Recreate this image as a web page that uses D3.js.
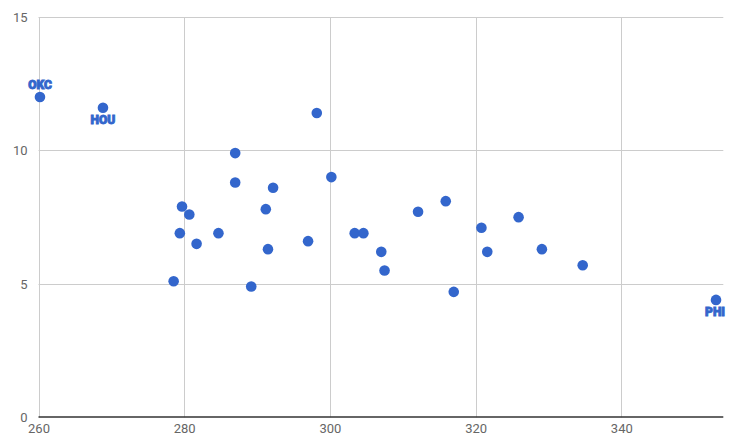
<!DOCTYPE html>
<html><head><meta charset="utf-8">
<script src="https://cdn.jsdelivr.net/npm/d3@7"></script>
<style>body{margin:0;background:#fff}svg{display:block}</style>
</head><body>
<svg id="c" width="742" height="448"></svg>
<script>
const teams = ["OKC","HOU","A1","A2","A3","A4","A5","A6","A7","A8","A9","A10","A11","A12","A13","A14","A15","A16","A17","B1","B2","B3","B4","B5","B6","B7","B8","B9","B10","PHI"];
const xVals = [260.2,268.85,298.2,287.0,287.0,292.2,300.2,279.7,280.7,291.2,279.4,284.7,281.7,291.5,297.0,278.55,289.2,303.4,304.6,312.1,315.9,307.05,307.5,317.0,320.8,321.6,325.9,329.1,334.7,353.0];
const yVals = [12.0,11.6,11.4,9.9,8.8,8.6,9.0,7.9,7.6,7.8,6.9,6.9,6.5,6.3,6.6,5.1,4.9,6.9,6.9,7.7,8.1,6.2,5.5,4.7,7.1,6.2,7.5,6.3,5.7,4.4];
const labeled = {"OKC":"above","HOU":"below","PHI":"below"};
const xTicks = [260,280,300,320,340];
const yTicks = [0,5,10,15];

const svg = d3.select("#c");
const x = d3.scaleLinear().domain([260,354]).range([38.5,723.3]);
const y = d3.scaleLinear().domain([0,15]).range([417.3,17]);

// gridlines
svg.append("g").selectAll("line").data(xTicks).join("line")
  .attr("x1",d=>Math.round(x(d))+0.5).attr("x2",d=>Math.round(x(d))+0.5)
  .attr("y1",y(15)).attr("y2",y(0)).attr("stroke","#cccccc");
svg.append("g").selectAll("line").data(yTicks.filter(d=>d>0)).join("line")
  .attr("x1",x(260)).attr("x2",x(354))
  .attr("y1",d=>Math.round(y(d))+0.5).attr("y2",d=>Math.round(y(d))+0.5).attr("stroke","#cccccc");

// baseline
svg.append("line").attr("x1",x(260)).attr("x2",x(354))
  .attr("y1",Math.round(y(0))).attr("y2",Math.round(y(0))).attr("stroke","#333333").attr("stroke-width",1.5);

// axes labels
const yAxis = d3.axisLeft(y).tickValues(yTicks).tickSize(0).tickPadding(11);
const ga = svg.append("g").attr("transform",`translate(${x(260)},0)`).call(yAxis);
ga.select(".domain").remove();
ga.selectAll("text").attr("font-family","Roboto").attr("font-size",13).attr("fill","#666666");

const xAxis = d3.axisBottom(x).tickValues(xTicks).tickSize(0).tickPadding(6);
const gx = svg.append("g").attr("transform",`translate(0,${y(0)})`).call(xAxis);
gx.select(".domain").remove();
gx.selectAll("text").attr("font-family","Roboto").attr("font-size",13).attr("fill","#666666");

// points
const data = teams.map((t,i)=>({t, x:xVals[i], y:yVals[i]}));
svg.append("g").selectAll("circle").data(data).join("circle")
  .attr("cx",d=>x(d.x)).attr("cy",d=>y(d.y)).attr("r",5.3).attr("fill","#3366cc");

// labels
svg.append("g").selectAll("text").data(data.filter(d=>labeled[d.t])).join("text")
  .attr("x",d=>x(d.x)+ (d.t==="PHI"? -1:0))
  .attr("y",d=>y(d.y) + (labeled[d.t]==="above"? -8 : 16))
  .attr("text-anchor","middle")
  .attr("font-family","Roboto").attr("font-weight",900).attr("font-size",12)
  .attr("fill","#3366cc").attr("stroke","#3366cc").attr("stroke-width",0.9)
  .text(d=>d.t);
</script>
</body></html>
